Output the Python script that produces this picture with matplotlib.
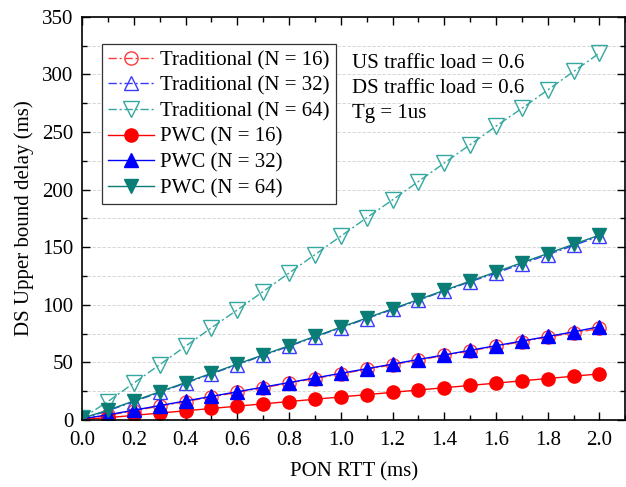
import matplotlib
matplotlib.use("Agg")
import matplotlib.pyplot as plt
from matplotlib.ticker import MultipleLocator

plt.rcParams['font.family'] = ['Liberation Serif', 'DejaVu Serif']
plt.rcParams['mathtext.fontset'] = 'stix'

rtt = [0.0, 0.1, 0.2, 0.3, 0.4, 0.5, 0.6, 0.7, 0.8, 0.9, 1.0,
       1.1, 1.2, 1.3, 1.4, 1.5, 1.6, 1.7, 1.8, 1.9, 2.0]

trad_16 = [0.8, 4.0, 8.0, 12.0, 16.0, 20.0, 24.0, 28.0, 32.0, 36.0, 40.0,
           44.0, 48.0, 52.0, 56.0, 60.0, 64.0, 68.0, 72.0, 75.5, 79.5]
trad_32 = [1.0, 8.0, 16.0, 24.0, 32.0, 40.0, 48.0, 56.0, 64.0, 72.0, 80.0,
           88.0, 96.0, 104.0, 112.0, 120.0, 127.5, 135.5, 143.5, 151.5, 159.5]
trad_64 = [1.5, 16.0, 32.0, 48.0, 64.0, 80.0, 95.5, 111.5, 127.5, 143.5, 159.5,
           175.5, 191.0, 207.0, 223.0, 239.0, 255.0, 270.5, 286.5, 302.5, 318.5]
pwc_16 = [0.5, 2.0, 4.0, 6.0, 8.0, 10.0, 12.0, 14.0, 16.0, 18.0, 20.0,
          22.0, 24.0, 26.0, 28.0, 30.0, 32.0, 34.0, 36.0, 38.0, 40.0]
pwc_32 = [1.0, 4.5, 8.5, 12.5, 16.5, 20.5, 24.5, 28.5, 32.5, 36.5, 40.5,
          44.5, 48.5, 52.5, 56.5, 60.5, 64.5, 68.5, 72.5, 76.5, 81.0]
pwc_64 = [1.5, 8.5, 16.5, 24.5, 32.5, 40.5, 48.5, 56.5, 64.5, 72.5, 80.5,
          88.5, 96.5, 104.5, 112.5, 120.5, 128.5, 136.5, 144.5, 152.5, 160.5]

notes = ["US traffic load = 0.6", "DS traffic load = 0.6", "Tg = 1us"]

FS = 15

fig = plt.figure(figsize=(6.26, 4.87), dpi=100)
ax = fig.add_axes([0.131, 0.1376, 0.868, 0.828])

dashdot = (0, (6, 2, 1.5, 2))
ax.plot(rtt, trad_16, color='#ff3b3b', linestyle=dashdot, linewidth=1.0,
        marker='o', markersize=9.5, markerfacecolor='none', markeredgecolor='#ff3b3b',
        markeredgewidth=1.0, label='Traditional (N = 16)')
ax.plot(rtt, trad_32, color='#3b3bff', linestyle=dashdot, linewidth=1.0,
        marker='^', markersize=10, markerfacecolor='none', markeredgecolor='#3b3bff',
        markeredgewidth=1.0, label='Traditional (N = 32)')
ax.plot(rtt, trad_64, color='#33a89f', linestyle=dashdot, linewidth=1.0,
        marker='v', markersize=11, markerfacecolor='none', markeredgecolor='#33a89f',
        markeredgewidth=1.0, label='Traditional (N = 64)')
ax.plot(rtt, pwc_16, color='#ff0000', linestyle='-', linewidth=1.0,
        marker='o', markersize=9.5, markerfacecolor='#ff0000', markeredgecolor='#ff0000',
        label='PWC (N = 16)')
ax.plot(rtt, pwc_32, color='#0000ff', linestyle='-', linewidth=1.0,
        marker='^', markersize=9.5, markerfacecolor='#0000ff', markeredgecolor='#0000ff',
        label='PWC (N = 32)')
ax.plot(rtt, pwc_64, color='#0a7d76', linestyle='-', linewidth=1.0,
        marker='v', markersize=9.5, markerfacecolor='#0a7d76', markeredgecolor='#0a7d76',
        label='PWC (N = 64)')

ax.set_xlim(0, 2.1)
ax.set_ylim(0, 350)
ax.xaxis.set_major_locator(MultipleLocator(0.2))
ax.xaxis.set_minor_locator(MultipleLocator(0.1))
ax.yaxis.set_major_locator(MultipleLocator(50))
ax.yaxis.set_minor_locator(MultipleLocator(25))
ax.xaxis.set_major_formatter(plt.FuncFormatter(lambda v, p: f"{v:.1f}"))
ax.tick_params(which='both', direction='in', top=True, right=True, labelsize=FS, width=1.0)
ax.tick_params(which='major', length=6)
ax.tick_params(which='minor', length=3.5)
ax.tick_params(axis='x', pad=8)
ax.tick_params(axis='y', pad=6)
for s in ax.spines.values():
    s.set_linewidth(1.2)

ax.yaxis.grid(True, which='both', linestyle=(0, (4, 2)), color='#d0d0d0', linewidth=0.6)
ax.set_axisbelow(True)

ax.set_xlabel('PON RTT (ms)', fontsize=FS, labelpad=9)
ax.set_ylabel('DS Upper bound delay (ms)', fontsize=FS, labelpad=6)

leg = ax.legend(loc='upper left', bbox_to_anchor=(0.037, 0.932), fontsize=FS,
                frameon=True, fancybox=False, edgecolor='#333333', framealpha=1,
                handlelength=2.2, handletextpad=0.3, labelspacing=0.29,
                borderpad=0.3, borderaxespad=0)
leg.get_frame().set_linewidth(0.9)

for i, y in enumerate([0.883, 0.823, 0.759]):
    ax.text(0.496, y, notes[i], transform=ax.transAxes, fontsize=FS,
            va='center', ha='left')

fig.savefig('out.png', dpi=100)
